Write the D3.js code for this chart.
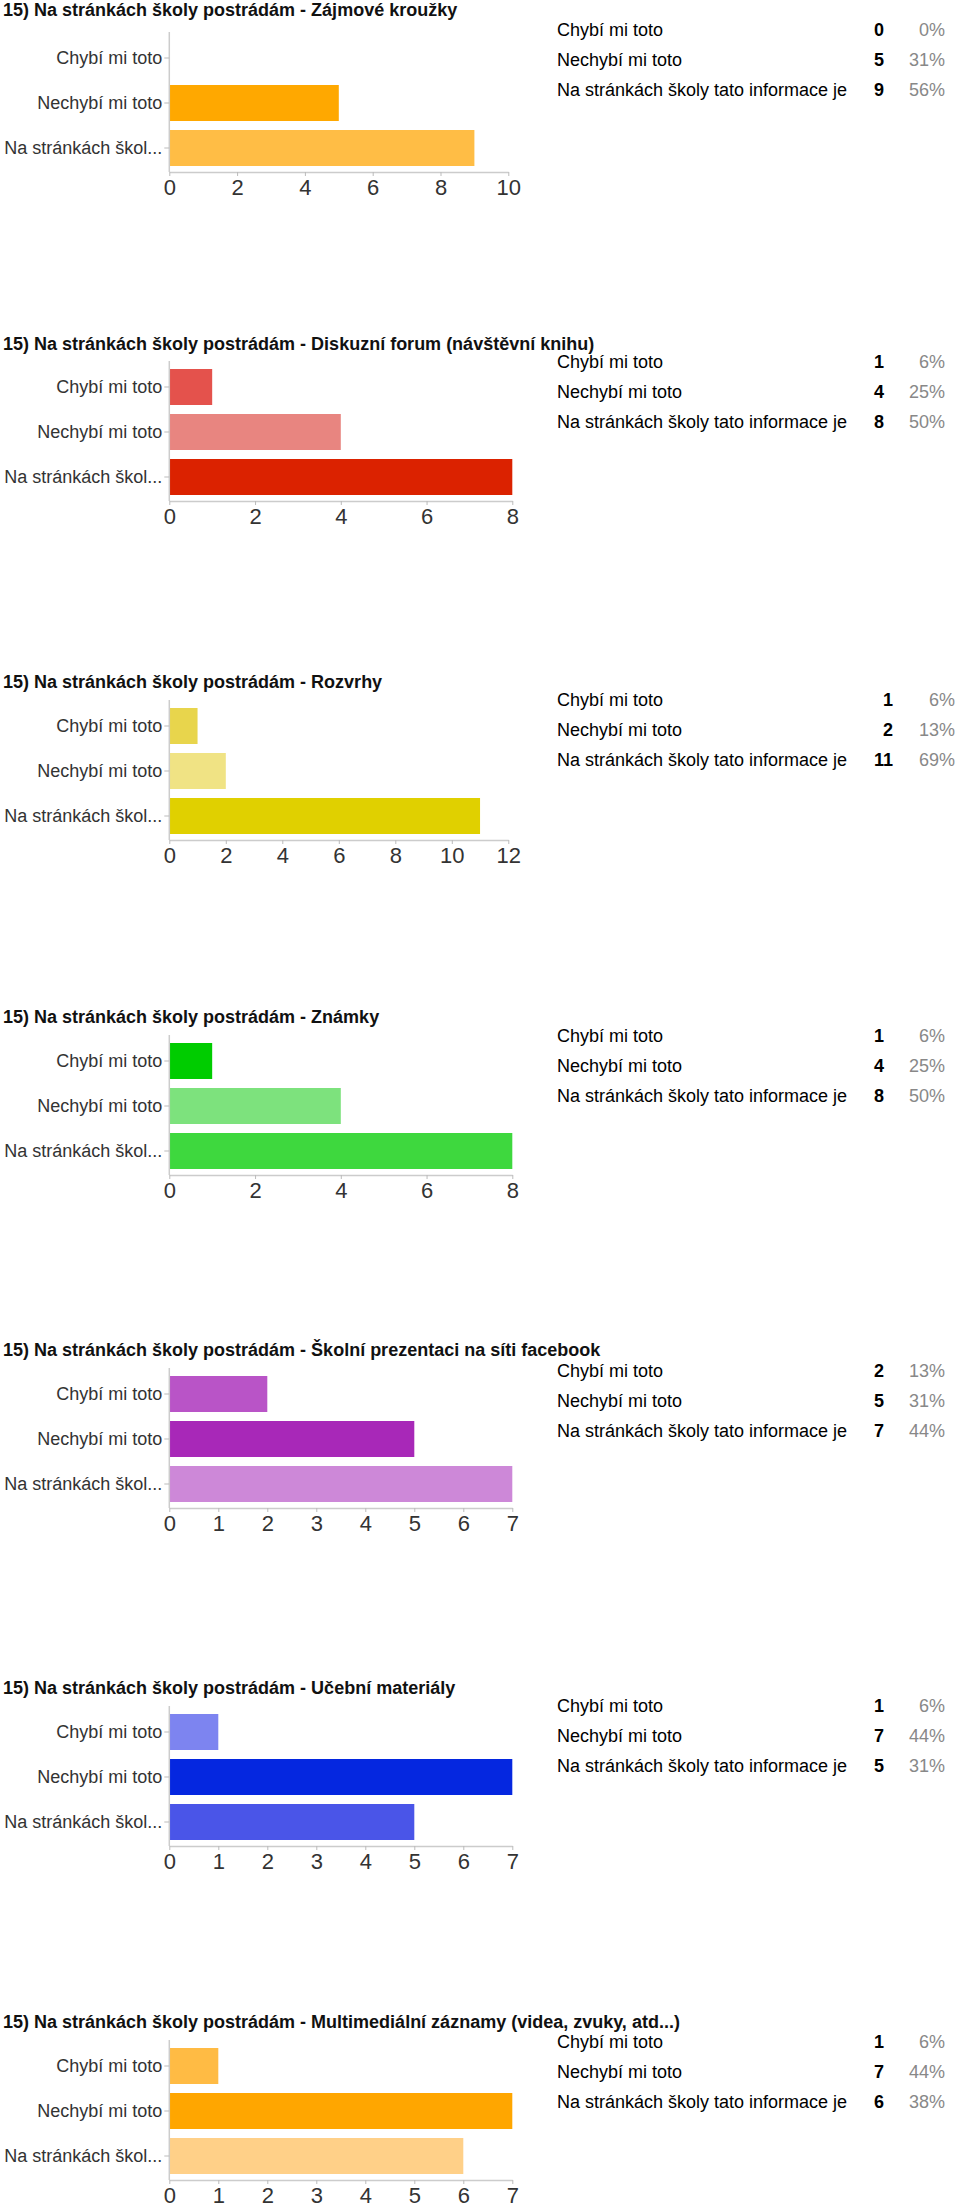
<!DOCTYPE html>
<html>
<head>
<meta charset="utf-8">
<script src="https://cdn.jsdelivr.net/npm/d3@7"></script>
<style>
    body { margin: 0; background: #fff; }
    svg { display: block; font-family: "Liberation Sans", Arial, sans-serif; }
</style>
</head>
<body>
<div id="data-visualization"></div>
<script>
// answers, same three for every question
const categories = ["Chybí mi toto", "Nechybí mi toto", "Na stránkách školy tato informace je"];
const axisLabels = ["Chybí mi toto", "Nechybí mi toto", "Na stránkách škol..."];

const titles = [
    "15) Na stránkách školy postrádám - Zájmové kroužky",
    "15) Na stránkách školy postrádám - Diskuzní forum (návštěvní knihu)",
    "15) Na stránkách školy postrádám - Rozvrhy",
    "15) Na stránkách školy postrádám - Známky",
    "15) Na stránkách školy postrádám - Školní prezentaci na síti facebook",
    "15) Na stránkách školy postrádám - Učební materiály",
    "15) Na stránkách školy postrádám - Multimediální záznamy (videa, zvuky, atd...)"
];

const counts = [
    [0, 5, 9],
    [1, 4, 8],
    [1, 2, 11],
    [1, 4, 8],
    [2, 5, 7],
    [1, 7, 5],
    [1, 7, 6]
];

const percents = [
    [0, 31, 56],
    [6, 25, 50],
    [6, 13, 69],
    [6, 25, 50],
    [13, 31, 44],
    [6, 44, 31],
    [6, 44, 38]
];

// x axis ticks
const axisMax = [10, 8, 12, 8, 7, 7, 7];
const tickStep = [2, 2, 2, 2, 1, 1, 1];

// bar colours per question
const colors = [
    ["#ffbb44", "#ffa800", "#ffbd45"],
    ["#e4524c", "#e88580", "#db2200"],
    ["#e8d54c", "#f0e384", "#e0d000"],
    ["#00cc00", "#7de27d", "#3ed83e"],
    ["#b954c7", "#a828b8", "#cd88d8"],
    ["#7d84f0", "#0527e0", "#4a55e8"],
    ["#ffbb44", "#ffa600", "#ffd088"]
];

// layout of each block on the page
const titleY = [16, 350, 688, 1023, 1356, 1694, 2028];
const axisY = [172, 501, 840, 1175, 1508, 1846, 2180];
const tableY = [30, 362, 700, 1036, 1371, 1706, 2042];
const xEnd = [508.3, 512.3, 508.3, 512.3, 512.3, 512.3, 512.3];
const countX = [884, 884, 893, 884, 884, 884, 884];
const pctX = [945, 945, 955, 945, 945, 945, 945];

const svg = d3.select("#data-visualization")
    .append("svg")
    .attr("width", 960)
    .attr("height", 2206);

const x0 = 169.3;
const rowGap = 30;

titles.forEach((title, i) => {
    let g = svg.append("g");

    // title
    g.append("text")
        .attr("x", 3)
        .attr("y", titleY[i])
        .style("font-size", "18px")
        .style("font-weight", "bold")
        .style("fill", "#111")
        .text(title);

    let xScale = d3.scaleLinear()
        .domain([0, axisMax[i]])
        .range([x0, xEnd[i]]);

    let yScale = d3.scaleBand()
        .domain(axisLabels)
        .range([axisY[i] - 136.5, axisY[i] - 1.5])
        .paddingInner(0.2)
        .paddingOuter(0.1);

    // bars
    g.append("g")
        .selectAll("rect")
        .data(counts[i])
        .enter()
        .append("rect")
        .attr("x", xScale(0))
        .attr("y", (d, j) => yScale(axisLabels[j]))
        .attr("width", d => xScale(d) - xScale(0))
        .attr("height", yScale.bandwidth())
        .style("fill", (d, j) => colors[i][j]);

    // y axis
    let yAxis = g.append("g")
        .attr("transform", "translate(" + x0 + ",0)")
        .call(d3.axisLeft(yScale).tickSize(5).tickPadding(2).tickSizeOuter(0));
    yAxis.select(".domain")
        .attr("d", "M0," + (axisY[i] - 140) + "V" + axisY[i])
        .style("stroke", "#ccc")
        .style("stroke-width", 1.5);
    yAxis.selectAll(".tick line").style("stroke", "#bbb");
    yAxis.selectAll(".tick text")
        .style("font-size", "18px")
        .style("fill", "#333");

    // x axis
    let ticks = d3.range(0, axisMax[i] + 0.001, tickStep[i]);
    let xAxis = g.append("g")
        .attr("transform", "translate(0," + axisY[i] + ")")
        .call(d3.axisBottom(xScale).tickValues(ticks).tickFormat(d3.format("d")).tickSize(4).tickPadding(3).tickSizeOuter(0));
    xAxis.select(".domain")
        .style("stroke", "#ccc")
        .style("stroke-width", 1.5);
    xAxis.selectAll(".tick line").style("stroke", "#bbb");
    xAxis.selectAll(".tick text")
        .style("font-size", "22px")
        .style("fill", "#333");

    // summary table on the right
    categories.forEach((cat, j) => {
        let y = tableY[i] + j * rowGap + 6;
        g.append("text")
            .attr("x", 557)
            .attr("y", y)
            .style("font-size", "18px")
            .style("fill", "#000")
            .text(cat);
        g.append("text")
            .attr("x", countX[i])
            .attr("y", y)
            .attr("text-anchor", "end")
            .style("font-size", "18px")
            .style("font-weight", "bold")
            .style("fill", "#000")
            .text(counts[i][j]);
        g.append("text")
            .attr("x", pctX[i])
            .attr("y", y)
            .attr("text-anchor", "end")
            .style("font-size", "18px")
            .style("fill", "#888")
            .text(percents[i][j] + "%");
    });
});
</script>
</body>
</html>
